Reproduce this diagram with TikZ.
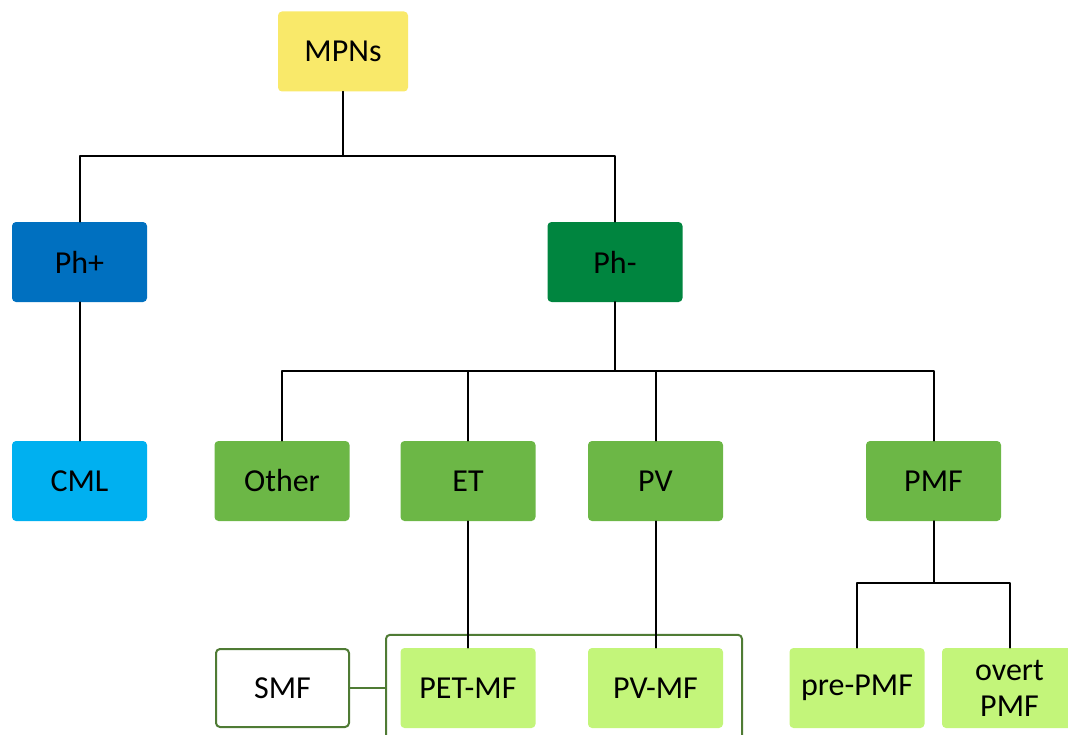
\documentclass[tikz,border=0pt]{standalone}
\usepackage{fontspec}
\setmainfont{Carlito}
\definecolor{mpnyellow}{HTML}{F9E96A}
\definecolor{phplusblue}{HTML}{0070C0}
\definecolor{phminusgreen}{HTML}{00853F}
\definecolor{cmlblue}{HTML}{00B0F0}
\definecolor{midgreen}{HTML}{6CB746}
\definecolor{lightgreen}{HTML}{C3F57A}
\definecolor{edgegreen}{HTML}{4F7B34}

\begin{document}
\begin{tikzpicture}[line cap=round,line join=round,x=0.75pt,y=-0.75pt,
    box/.style={rectangle,rounded corners=3pt,minimum width=101.25pt,minimum height=60pt,inner sep=2pt,font=\fontsize{24}{27}\selectfont,text=black,align=center},
    link/.style={line width=1.5pt,black}]
                \useasboundingbox (0,0) rectangle (1068,735);
                \clip (0,0) rectangle (1068,735);
                \node[box,fill=mpnyellow,minimum width=97.5pt] (mpns) at (343,51.5) {MPNs};
                \node[box,fill=phplusblue] (phplus) at (79.5,262) {Ph+};
                \node[box,fill=phminusgreen] (phminus) at (615,262) {Ph-};
                \node[box,fill=cmlblue] (cml) at (79.5,481) {CML};
                \node[box,fill=midgreen] (other) at (282,481) {Other};
                \node[box,fill=midgreen] (et) at (468,481) {ET};
                \node[box,fill=midgreen] (pv) at (655.5,481) {PV};
                \node[box,fill=midgreen] (pmf) at (933.5,481) {PMF};
                \node[box,draw=edgegreen,line width=1.5pt,fill=white,minimum width=99.75pt,minimum height=58.5pt] (smf) at (282.5,688) {SMF};
                \node[rectangle,rounded corners=3pt,draw=edgegreen,line width=1.5pt,minimum width=267pt,minimum height=82pt] (grp) at (564,689.5) {};
                \node[box,fill=lightgreen] (petmf) at (468,688) {PET-MF};
                \node[box,fill=lightgreen] (pvmf) at (655.5,688) {PV-MF};
                \node[box,fill=lightgreen] (prepmf) at (857,688) {pre-PMF};
                \node[box,fill=lightgreen] (overtpmf) at (1009.5,688) {overt\\PMF};
                \draw [link] (mpns.south) -- ++(0,64) -| (phplus.north);
                \draw [link] (mpns.south) -- ++(0,64) -| (phminus.north);
                \draw [link] (phplus.south) -- (cml.north);
                \draw [link] (phminus.south) -- ++(0,69) -| (other.north);
                \draw [link] (phminus.south) -- ++(0,69) -| (et.north);
                \draw [link] (phminus.south) -- ++(0,69) -| (pv.north);
                \draw [link] (phminus.south) -- ++(0,69) -| (pmf.north);
                \draw [link] (et.south) -- (petmf.north);
                \draw [link] (pv.south) -- (pvmf.north);
                \draw [link] (pmf.south) -- ++(0,62) -| (prepmf.north);
                \draw [link] (pmf.south) -- ++(0,62) -| (overtpmf.north);
                \draw [line width=1.5pt,edgegreen] (smf.east) -- (smf.east -| grp.west);
\end{tikzpicture}
\end{document}
